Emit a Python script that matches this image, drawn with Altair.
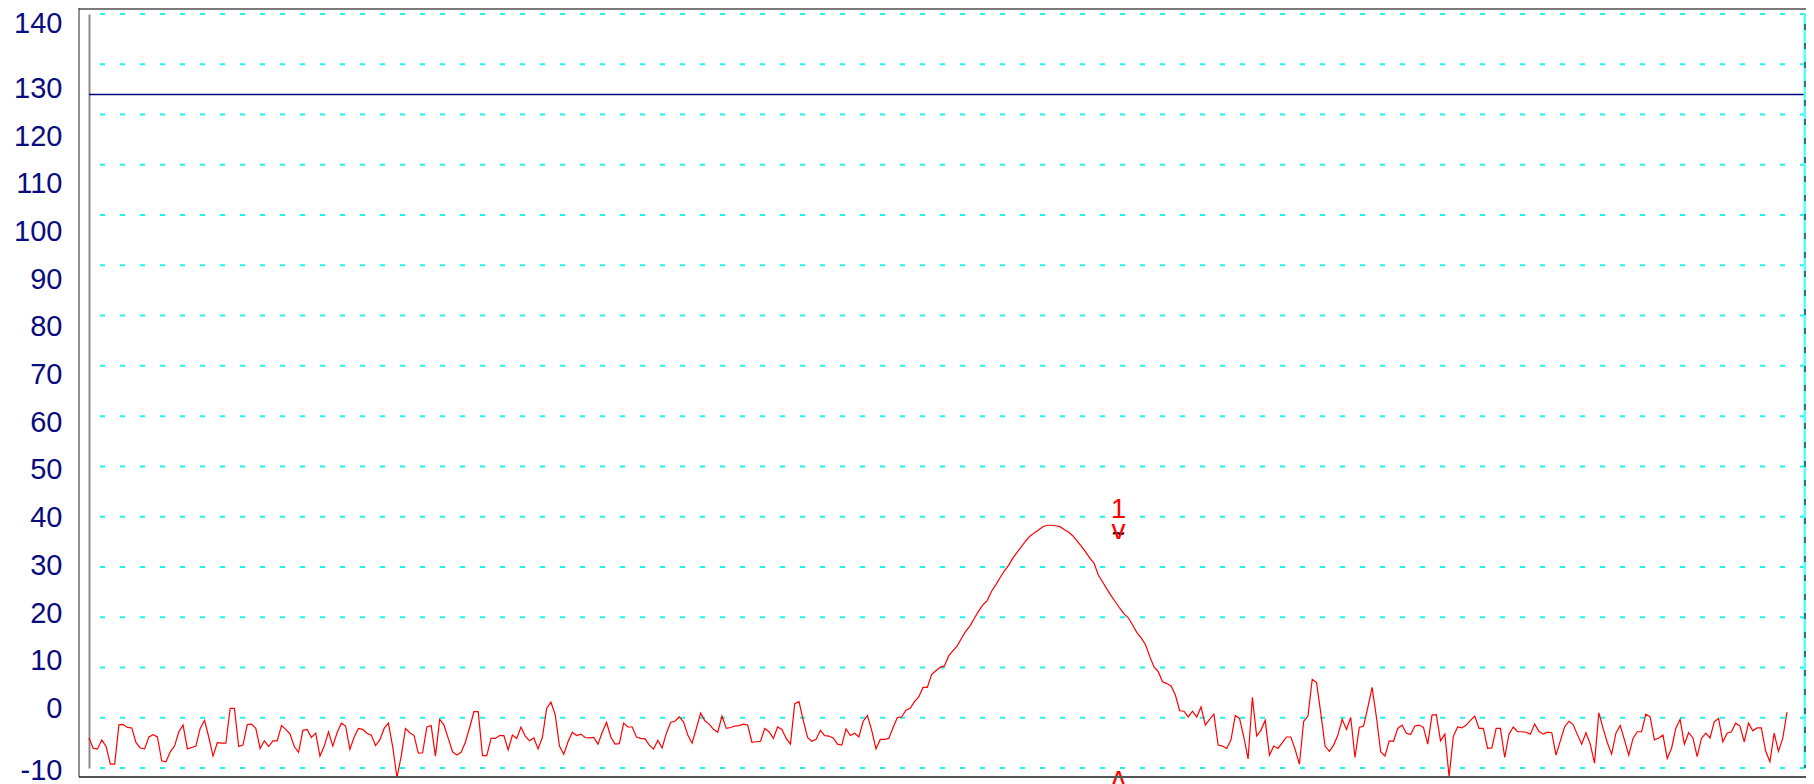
import altair as alt
import pandas as pd

# ---- data ----
trace_db = [
    # 89 .. 396 px
    -6.2, -8.4, -8.5, -6.6, -8.0, -11.7, -11.7, -3.4, -3.4, -4.0,
    -4.1, -7.2, -8.3, -8.5, -6.0, -5.5, -6.0, -11.0, -11.2, -9.1,
    -7.9, -4.9, -3.5, -8.5, -8.2, -7.9, -4.2, -2.5, -6.0, -10.0,
    -7.2, -7.3, -7.3, 0.0, 0.0, -8.0, -7.7, -3.4, -3.3, -4.2,
    -8.4, -6.8, -8.0, -6.8, -6.8, -3.6, -4.4, -5.4, -8.0, -9.2,
    -4.6, -4.4, -6.1, -5.2, -10.0, -7.9, -4.9, -7.9, -5.1, -3.1,
    -3.7, -8.6, -6.0, -4.2, -4.4, -5.2, -5.6, -7.8, -6.6, -4.2,
    -3.1, -8.0, -14.5,
    # 400 .. 898 px
    -10.0, -4.2, -5.1, -5.7, -9.4, -9.3, -3.9, -3.6, -10.0, -2.3,
    -3.5, -6.3, -9.1, -9.8, -9.2, -7.1, -4.0, -0.7, -0.7, -9.9,
    -9.9, -6.3, -6.3, -5.7, -5.7, -8.7, -5.6, -6.3, -3.9, -5.8,
    -6.8, -6.2, -8.5, -6.1, 0.0, 1.3, -1.3, -7.9, -9.6, -7.0,
    -5.0, -5.7, -5.4, -6.1, -6.2, -6.1, -7.5, -5.0, -2.9, -6.0,
    -7.5, -7.4, -3.1, -3.9, -3.9, -6.0, -6.3, -6.4, -7.7, -8.5,
    -6.7, -8.3, -5.2, -2.9, -2.7, -1.8, -2.8, -5.6, -7.3, -4.2,
    -1.0, -2.6, -3.3, -4.4, -5.0, -1.6, -4.2, -4.0, -3.7, -3.6,
    -3.3, -3.5, -7.1, -7.0, -6.9, -4.2, -4.9, -6.3, -3.9, -4.4,
    -6.3, -7.5, 1.0, 1.4, -2.5, -6.1, -6.9, -6.5, -4.6, -5.7,
    -5.8, -6.2, -7.5, -7.7, -4.3, -5.7, -5.2, -6.0, -2.7, -1.5,
    -4.6, -8.5, -6.5, -6.5, -6.3, -4.0, -1.9, -1.8,
    # 903 .. 1099 px (signal)
    -0.4, 0.0, 1.4, 2.4, 4.4, 4.4, 7.1, 7.9, 8.6, 8.9,
    11.0, 12.1, 13.1, 14.7, 16.2, 17.3, 18.9, 20.4, 21.7, 22.6,
    24.5, 25.9, 27.4, 28.8, 30.0, 31.5, 32.7, 33.9, 35.1, 36.1,
    36.8, 37.4, 38.1, 38.4, 38.4, 38.3, 38.1, 37.5, 37.0, 36.2,
    35.1, 34.0, 32.8, 31.5, 30.4, 27.9,
    # 1104 .. 1242 px
    26.5, 25.0, 23.6, 22.3, 21.0, 19.8, 19.0, 17.5, 15.9, 14.8,
    13.4, 10.9, 8.7, 7.7, 5.6, 5.2, 4.7, 2.8, -0.5, -0.6,
    -1.8, -0.6, -1.8, 0.3, -3.5, -2.3, -1.2, -7.7, -7.9, -8.4,
    -6.6, -1.5, -2.1,
    # 1247 .. 1599 px
    -6.0, -10.6, 2.3, -5.8, -4.6, -2.5, -9.8, -7.9, -8.4, -7.2,
    -6.0, -6.0, -8.6, -11.7, -2.7, -1.6, 6.1, 5.4, -1.0, -7.9,
    -9.0, -7.7, -5.6, -2.3, -4.4, -1.9, -10.3, -4.0, -3.7, 0.2,
    4.4, -1.8, -9.1, -10.0, -6.8, -6.9, -4.2, -3.5, -5.2, -5.5,
    -3.7, -3.5, -4.0, -7.5, -1.4, -1.3, -6.8, -5.4, -14.3, -5.8,
    -3.9, -4.1, -3.5, -2.5, -1.6, -4.2, -4.2, -8.4, -8.3, -4.2,
    -4.2, -10.3, -5.4, -3.9, -4.9, -4.9, -5.0, -5.4, -3.3, -4.8,
    -5.4, -5.0, -5.1, -9.8, -6.8, -3.9, -2.7, -3.4, -5.5, -7.5,
    -5.1, -7.5, -11.5, -0.9,
    # 1604 .. 1787 px
    -4.2, -7.2, -9.6, -5.2, -3.6, -6.6, -9.8, -6.3, -4.9, -4.9,
    -1.2, -1.8, -6.6, -6.2, -5.6, -10.5, -8.4, -4.2, -2.3, -7.5,
    -5.1, -6.2, -10.1, -6.3, -5.2, -6.2, -2.8, -2.1, -7.0, -5.2,
    -4.9, -3.1, -3.7, -7.0, -3.1, -4.7, -4.1, -4.1, -8.9, -11.2,
    -5.2, -9.0, -6.3, -0.8,
]
y_labels = [140, 130, 120, 110, 100, 90, 80, 70, 60, 50, 40, 30, 20, 10, 0, -10]
grid_divisions = list(range(16))
ref_level = [128.7]
marker_index = [240.7]
marker_level = [36.5]
marker_label = ["1"]

# ---- layout ----
W, H = 1716, 754
N = len(trace_db)
x_max = (N - 1) * W / 1698
y_dom = [-12.5, 145.6]

xs = alt.Scale(domain=[0, x_max], nice=False, zero=False)
ys = alt.Scale(domain=y_dom, nice=False, zero=False)

df = pd.DataFrame({"idx": list(range(N)), "level": trace_db})
mk = pd.DataFrame({"idx": marker_index, "level": marker_level, "label": marker_label})

grid = alt.Chart(pd.DataFrame({"div": grid_divisions})).mark_rule(
    color="#1EF2F2", strokeWidth=2, strokeDash=[5, 15]
).encode(y=alt.Y("div:Q", scale=alt.Scale(domain=[0, 15], nice=False, zero=False), axis=None))

ref = alt.Chart(pd.DataFrame({"ref": ref_level})).mark_rule(
    color="#000080", strokeWidth=1.5
).encode(y=alt.Y("ref:Q", scale=ys, axis=None))

right_cyan = alt.Chart(pd.DataFrame({"a": [0]})).mark_rule(color="#55FFFF", strokeWidth=3).encode(
    x=alt.value(W), y=alt.value(0), y2=alt.value(H))
right_dash = alt.Chart(pd.DataFrame({"a": [0]})).mark_rule(
    color="#3A7070", strokeWidth=2, strokeDash=[6, 13]).encode(
    x=alt.value(W), y=alt.value(10), y2=alt.value(H))

trace = alt.Chart(df).mark_line(color="#FF0000", strokeWidth=1.2, clip=False).encode(
    x=alt.X("idx:Q", scale=xs, axis=None),
    y=alt.Y("level:Q", scale=ys, axis=alt.Axis(
        values=y_labels, grid=False, ticks=False, domain=True,
        domainColor="#8A8A8A", domainWidth=2, title=None,
        labelExpr="'' + datum.value",
        labelFont="Liberation Sans", labelFontSize=29, labelColor="#0B0B80",
        labelPadding=27, labelFlush=False, labelOverlap=False, labelBound=False,
        labelOffset={"condition": [
            {"test": "datum.value == 140", "value": -17},
            {"test": "datum.value == -10", "value": 14}], "value": 0},
    )),
)

base_mk = alt.Chart(mk).encode(x=alt.X("idx:Q", scale=xs, axis=None),
                               y=alt.Y("level:Q", scale=ys, axis=None))
mk_num = base_mk.mark_text(color="#FF0000", fontSize=27, font="Liberation Sans",
                           baseline="alphabetic", dy=-16).encode(text="label:N")
mk_tilde = base_mk.mark_text(color="#000000", fontSize=22, font="Liberation Sans",
                             fontWeight="bold", baseline="alphabetic", dy=7, text="~")
mk_v = base_mk.mark_text(color="#FF0000", fontSize=28, font="Liberation Sans",
                         baseline="alphabetic", dy=5, text="v")
mk_bottom = alt.Chart(mk).mark_text(color="#FF0000", fontSize=28, font="Liberation Sans",
                                    baseline="alphabetic", angle=180, text="v").encode(
    x=alt.X("idx:Q", scale=xs, axis=None), y=alt.value(H + 3))

frame_top = alt.Chart(pd.DataFrame({"a": [0]})).mark_rule(color="#7A7A7A", strokeWidth=2).encode(
    x=alt.value(-10), x2=alt.value(W + 2), y=alt.value(-5))
frame_bottom = alt.Chart(pd.DataFrame({"a": [0]})).mark_rule(color="#555555", strokeWidth=2).encode(
    x=alt.value(-10), x2=alt.value(W + 2), y=alt.value(H + 9))
frame_left = alt.Chart(pd.DataFrame({"a": [0]})).mark_rule(color="#222222", strokeWidth=1).encode(
    x=alt.value(-10), y=alt.value(-6), y2=alt.value(H + 9))

chart = alt.layer(
    grid, ref, right_cyan, right_dash, trace, mk_num, mk_tilde, mk_v, mk_bottom,
    frame_top, frame_bottom, frame_left,
).resolve_scale(y="independent", x="independent").properties(
    width=W, height=H,
    autosize=alt.AutoSizeParams(type="none"),
    padding={"left": 81, "top": 6, "right": 1, "bottom": 16},
    background="white",
).configure_view(stroke=None)

chart.save("out.html", embed_options={"renderer": "svg", "actions": False})
